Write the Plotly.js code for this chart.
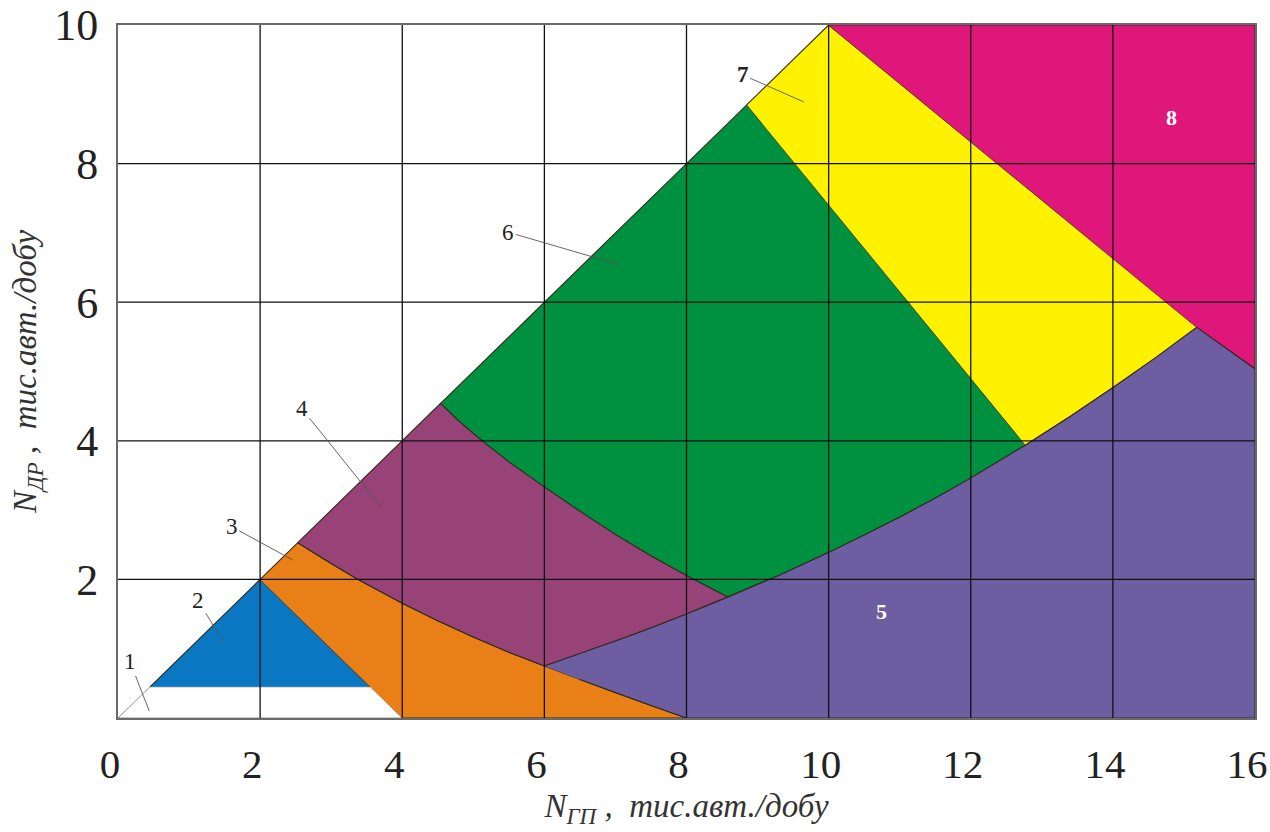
<!DOCTYPE html>
<html>
<head>
<meta charset="utf-8">
<script src="https://cdn.plot.ly/plotly-3.0.1.min.js"></script>
<style>html,body{margin:0;padding:0;background:#fff;}#chart{width:1270px;height:832px;}</style>
</head>
<body>
<div id="chart"></div>
<script>
// ---------- data ----------
const xTicks = [0, 2, 4, 6, 8, 10, 12, 14, 16];
const yTicks = [2, 4, 6, 8, 10];

// boundary curve A: zone 3 / zones 4,5
const curveAx = [2.53, 3.0, 3.36, 4.0, 4.5, 5.0, 5.5, 6.0, 6.5, 7.0, 7.5, 8.0];
const curveAy = [2.53, 2.23, 2.01, 1.655, 1.405, 1.17, 0.95, 0.75, 0.555, 0.365, 0.18, 0];
// boundary curve B: zone 4 / zone 6
const curveBx = [4.54, 4.8, 5.13, 5.5, 6.0, 6.5, 7.0, 7.5, 8.0, 8.3, 8.58];
const curveBy = [4.54, 4.285, 3.995, 3.70, 3.335, 2.985, 2.65, 2.34, 2.055, 1.896, 1.75];
// boundary curve C: top of zone 5
const curveCx = [6.0, 6.5, 7.0, 7.5, 8.0, 8.58, 9.31, 10.0, 10.5, 11.0, 11.5, 12.0, 12.77, 13.4, 14.0, 14.6, 15.18];
const curveCy = [0.75, 0.925, 1.11, 1.30, 1.50, 1.744, 2.065, 2.39, 2.64, 2.90, 3.175, 3.465, 3.94, 4.355, 4.77, 5.20, 5.64];

// zone 1 (white) and zone 2 (blue triangle)
const zone1x = [0, 0.45, 3.55, 4, 0];
const zone1y = [0, 0.45, 0.45, 0, 0];
const zone2x = [0.45, 2, 3.55];
const zone2y = [0.45, 2, 0.45];
// corner points of the other zones
const zone3Extra = {x0: 2, y0: 2, xEnd: 4, yEnd: 0};
const zone6Top = [8.85, 8.85];       // green / yellow on the diagonal
const apex = [10, 10];
const zone8x = [10, 16, 16, 15.18];
const zone8y = [10, 10, 5.04, 5.64];
const zone5Corner = {x: [16, 16, 8], y: [5.04, 0, 0]};

// zone labels
const labelText = ['1', '2', '3', '4', '6', '7'];
const labelX = [0.17, 1.13, 1.60, 2.59, 5.49, 8.79];
const labelY = [0.81, 1.69, 2.76, 4.46, 7.01, 9.28];
const tipX = [0.44, 1.48, 2.46, 3.71, 7.06, 9.65];
const tipY = [0.10, 1.10, 2.28, 3.03, 6.54, 8.89];
const innerText = ['5', '8'];
const innerX = [10.75, 14.82];
const innerY = [1.53, 8.67];

// ---------- build polygons from the shared boundaries ----------
const rev = a => a.slice().reverse();
const idx = (a, v) => a.indexOf(v);
const sl = (a, i, j) => a.slice(i, j + 1);

const iA6 = idx(curveAx, 6.0);
const iC858 = idx(curveCx, 8.58);
const iC1277 = idx(curveCx, 12.77);
const iCend = curveCx.length - 1;

const zone3x = [zone3Extra.x0, ...curveAx, zone3Extra.xEnd];
const zone3y = [zone3Extra.y0, ...curveAy, zone3Extra.yEnd];

const zone4x = [curveAx[0], ...curveBx, ...rev(sl(curveCx, 0, iC858 - 1)), ...rev(sl(curveAx, 0, iA6 - 1))];
const zone4y = [curveAy[0], ...curveBy, ...rev(sl(curveCy, 0, iC858 - 1)), ...rev(sl(curveAy, 0, iA6 - 1))];

const zone6x = [curveBx[0], zone6Top[0], ...rev(sl(curveCx, iC858 + 1, iC1277)), ...rev(curveBx)];
const zone6y = [curveBy[0], zone6Top[1], ...rev(sl(curveCy, iC858 + 1, iC1277)), ...rev(curveBy)];

const zone7x = [zone6Top[0], apex[0], ...rev(sl(curveCx, iC1277, iCend))];
const zone7y = [zone6Top[1], apex[1], ...rev(sl(curveCy, iC1277, iCend))];

const zone5x = [...curveCx, ...zone5Corner.x, ...rev(sl(curveAx, iA6 + 1, curveAx.length - 2))];
const zone5y = [...curveCy, ...zone5Corner.y, ...rev(sl(curveAy, iA6 + 1, curveAy.length - 2))];

const edge = '#34281c';
function poly(x, y, fill, lc, lw) {
  return {x: x, y: y, type: 'scatter', mode: 'lines', fill: 'toself', fillcolor: fill,
          line: {color: lc || edge, width: lw || 1.1}, hoverinfo: 'skip', showlegend: false};
}

const traces = [
  poly(zone1x, zone1y, '#ffffff', '#777777', 0.8),
  poly(zone2x, zone2y, '#0a77c2'),
  poly(zone3x, zone3y, '#e97f17'),
  poly(zone4x, zone4y, '#984378'),
  poly(zone5x, zone5y, '#6c5ea0'),
  poly(zone6x, zone6y, '#009140'),
  poly(zone7x, zone7y, '#fff200'),
  poly(zone8x, zone8y, '#df177a')
];

// grid lines on top of the colored zones
const shapes = [];
xTicks.slice(1, -1).forEach(v => shapes.push({type: 'line', xref: 'x', yref: 'y', x0: v, x1: v, y0: 0, y1: 10,
  line: {color: '#111111', width: 1.3}, layer: 'above'}));
yTicks.slice(0, -1).forEach(v => shapes.push({type: 'line', xref: 'x', yref: 'y', x0: 0, x1: 16, y0: v, y1: v,
  line: {color: '#111111', width: 1.3}, layer: 'above'}));

const annotations = [];
labelText.forEach((t, i) => annotations.push({
  x: tipX[i], y: tipY[i], ax: labelX[i], ay: labelY[i], axref: 'x', ayref: 'y', xref: 'x', yref: 'y',
  text: t === '7' ? '<b>7</b>' : t, showarrow: true, arrowhead: 0, arrowwidth: 0.9, arrowcolor: '#555555',
  standoff: 0, startstandoff: 0,
  font: {family: 'Liberation Serif, serif', size: 23, color: '#222222'}
}));
innerText.forEach((t, i) => annotations.push({
  x: innerX[i], y: innerY[i], xref: 'x', yref: 'y', text: '<b>' + t + '</b>', showarrow: false,
  font: {family: 'Liberation Serif, serif', size: 22, color: '#ffffff'}
}));

const layout = {
  width: 1270, height: 832,
  margin: {l: 118, r: 15, t: 25, b: 114},
  paper_bgcolor: '#ffffff', plot_bgcolor: '#ffffff',
  showlegend: false,
  font: {family: 'Liberation Serif, serif', color: '#222222'},
  xaxis: {
    range: [0, 16], tickvals: xTicks, ticktext: xTicks.map(String),
    showgrid: false, zeroline: false, showline: true, mirror: true,
    linecolor: '#6a6a6a', linewidth: 2, ticks: '', ticklabelstandoff: 9,
    ticklabelshift: -8, ticklabeloverflow: 'allow',
    tickfont: {family: 'Liberation Serif, serif', size: 41, color: '#222222'},
    layer: 'above traces',
    title: {text: '<i>N<sub>ГП</sub> ,  тис.авт./добу</i>', standoff: 8,
            font: {family: 'Liberation Serif, serif', size: 33, color: '#333333'}}
  },
  yaxis: {
    range: [0, 10], tickvals: yTicks, ticktext: yTicks.map(String),
    showgrid: false, zeroline: false, showline: true, mirror: true,
    linecolor: '#6a6a6a', linewidth: 2, ticks: '', ticklabelstandoff: 9,
    ticklabeloverflow: 'allow',
    tickfont: {family: 'Liberation Serif, serif', size: 44, color: '#222222'},
    layer: 'above traces',
    title: {text: '<i>N<sub>ДР</sub> ,  тис.авт./добу</i>', standoff: 8,
            font: {family: 'Liberation Serif, serif', size: 33, color: '#333333'}}
  },
  shapes: shapes,
  annotations: annotations
};

Plotly.newPlot('chart', traces, layout, {displayModeBar: false, staticPlot: true});
</script>
</body>
</html>
